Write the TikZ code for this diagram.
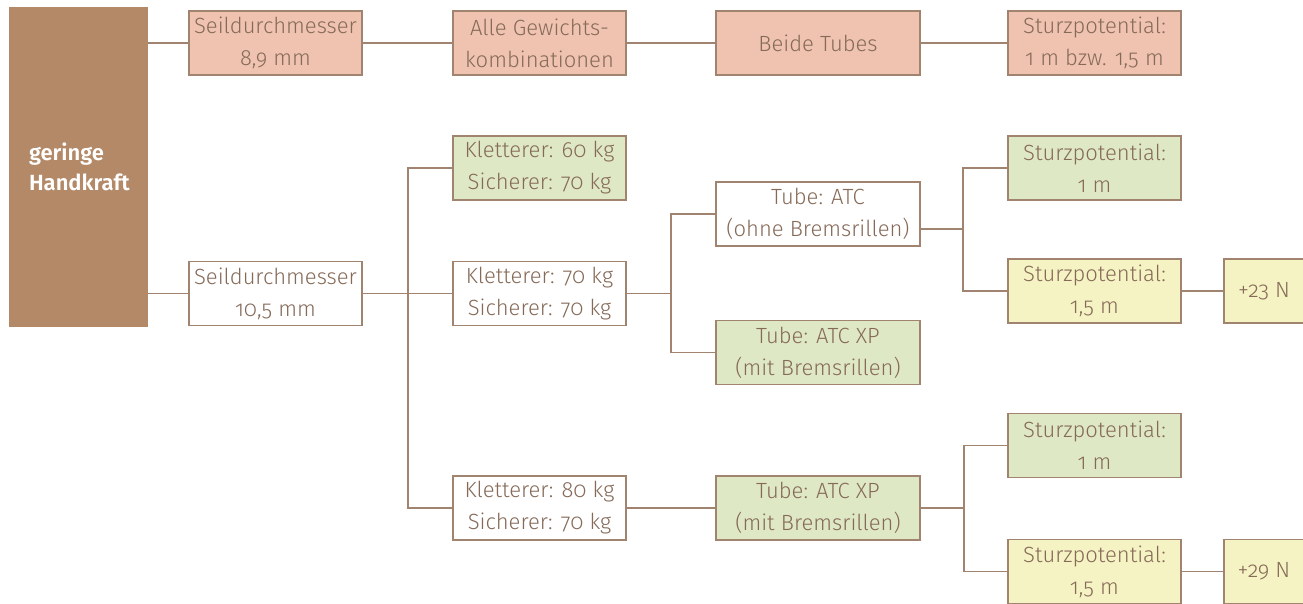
\documentclass[tikz,border=0pt]{standalone}
\usepackage{fontspec}
\setmainfont{Fira Sans}[UprightFont=* Light, BoldFont=* SemiBold, Numbers=OldStyle]
\usepackage{xcolor}
\usepackage{tikz}

\definecolor{handbrown}{HTML}{B38968}
\definecolor{salmonfill}{HTML}{EFC3B0}
\definecolor{greenfill}{HTML}{DFE8C5}
\definecolor{yellowfill}{HTML}{F5F3C3}
\definecolor{boxline}{HTML}{A0846F}
\definecolor{boxtext}{HTML}{866A58}

\begin{document}
\begin{tikzpicture}[x=0.5pt, y=-0.5pt,
        box/.style={draw=boxline, line width=0.8pt, text=boxtext, align=center,
            inner sep=0pt, minimum width=86.5pt, minimum height=32pt,
            font=\fontsize{11}{16}\selectfont},
        widebox/.style={box, minimum width=102pt},
        link/.style={draw=boxline, line width=0.8pt}]
        \useasboundingbox (0,0) rectangle (1303,604);
        \clip (0,0) rectangle (1303,604);
        % root
        \node[fill=handbrown, text=white, minimum width=69.5pt, minimum height=160pt,
            inner xsep=10pt, text width=49.5pt, align=left,
            font=\bfseries\fontsize{11}{15}\selectfont] (handkraft) at (78.5,167) {geringe\\Handkraft};
        % upper row: 8,9 mm
        \node[box, fill=salmonfill] (seil89) at (275.5,43) {Seildurchmesser\\8,9 mm};
        \node[box, fill=salmonfill] (gewicht) at (539.5,43) {Alle Gewichts-\\kombinationen};
        \node[widebox, fill=salmonfill] (beide) at (818,43) {Beide Tubes};
        \node[box, fill=salmonfill] (sturzall) at (1094.5,43) {Sturzpotential:\\1 m bzw. 1,5 m};
        % lower tree: 10,5 mm
        \node[box, fill=white] (seil105) at (275.5,293.5) {Seildurchmesser\\10,5 mm};
        \node[box, fill=greenfill] (kl60) at (539.5,168) {Kletterer: 60 kg\\Sicherer: 70 kg};
        \node[box, fill=white] (kl70) at (539.5,293.5) {Kletterer: 70 kg\\Sicherer: 70 kg};
        \node[box, fill=white] (kl80) at (539.5,508) {Kletterer: 80 kg\\Sicherer: 70 kg};
        \node[widebox, fill=white] (atc) at (818,214) {Tube: ATC\\(ohne Bremsrillen)};
        \node[widebox, fill=greenfill] (atcxpa) at (818,352.5) {Tube: ATC XP\\(mit Bremsrillen)};
        \node[widebox, fill=greenfill] (atcxpb) at (818,508) {Tube: ATC XP\\(mit Bremsrillen)};
        \node[box, fill=greenfill] (sturzeinsa) at (1094.5,168) {Sturzpotential:\\1 m};
        \node[box, fill=yellowfill] (sturzhalba) at (1094.5,291) {Sturzpotential:\\1,5 m};
        \node[box, fill=yellowfill, minimum width=40pt] (plusdrei) at (1264,291) {+23 N};
        \node[box, fill=greenfill] (sturzeinsb) at (1094.5,445.5) {Sturzpotential:\\1 m};
        \node[box, fill=yellowfill] (sturzhalbb) at (1094.5,571.5) {Sturzpotential:\\1,5 m};
        \node[box, fill=yellowfill, minimum width=40pt] (plusneun) at (1264,571.5) {+29 N};
        \coordinate (jatc) at (963,229);
        % connectors
        \draw[link] (handkraft.east |- seil89.west) -- (seil89.west);
        \draw[link] (seil89) -- (gewicht) -- (beide) -- (sturzall);
        \draw[link] (handkraft.east |- seil105.west) -- (seil105.west);
        \draw[link] (seil105.east) -- (kl70.west);
        \draw[link] (seil105.east) -- ++(45,0) |- (kl60.west);
        \draw[link] (seil105.east) -- ++(45,0) |- (kl80.west);
        \draw[link] (kl70.east) -- ++(44,0) |- (atc.west);
        \draw[link] (kl70.east) -- ++(44,0) |- (atcxpa.west);
        \draw[link] (atc.east |- jatc) -- (jatc);
        \draw[link] (sturzeinsa.west) -| (jatc) |- (sturzhalba.west);
        \draw[link] (sturzhalba) -- (plusdrei);
        \draw[link] (kl80) -- (atcxpb);
        \draw[link] (atcxpb.east) -- ++(43,0) |- (sturzeinsb.west);
        \draw[link] (atcxpb.east) -- ++(43,0) |- (sturzhalbb.west);
        \draw[link] (sturzhalbb) -- (plusneun);
    \end{tikzpicture}
\end{document}
